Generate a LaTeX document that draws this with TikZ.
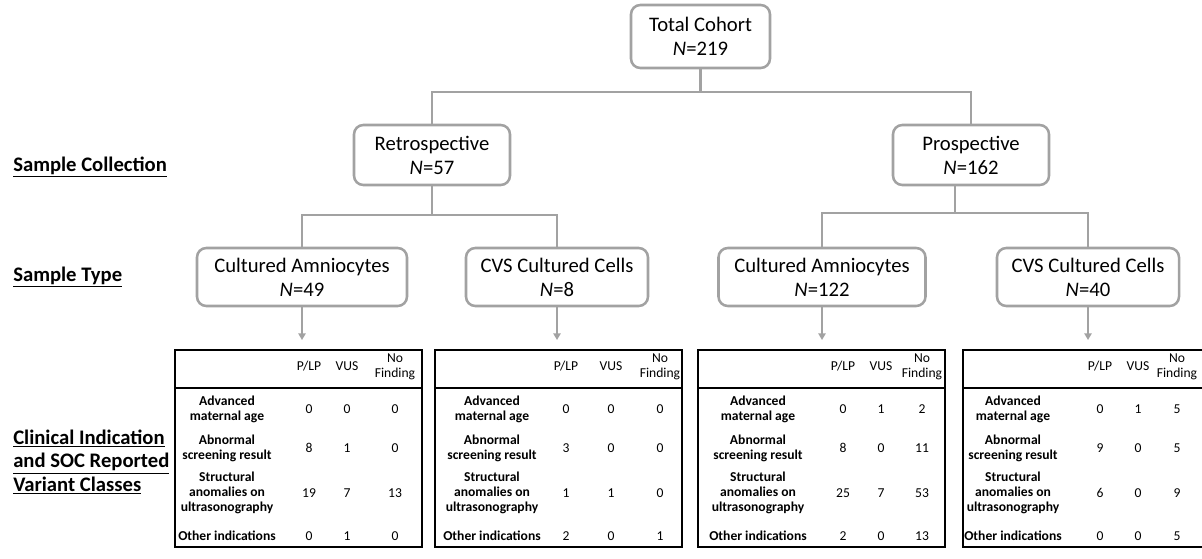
\documentclass[tikz,border=0pt]{standalone}
\usepackage{fontspec}
\setmainfont{Carlito}
\usetikzlibrary{arrows.meta,calc}
\definecolor{boxgray}{RGB}{162,162,162}

\newcommand{\TableFrame}[6]{%
  \def\TabX{#2}\def\TabL{#3}\def\TabA{#4}\def\TabB{#5}\def\TabC{#6}%
  \draw[tab] (#2,350) rectangle (#2+247,547);
  \draw[tab] (#2,388) -- (#2+247,388);
  \node[num] (t#1ha) at (#2+#4,366) {P/LP};
  \node[num] (t#1hb) at (#2+#5,366) {VUS};
  \node[num,align=center] (t#1hc) at (#2+#6,367) {No\\Finding};
  \node[lbl] (t#1l1) at (#2+#3,409) {Advanced\\maternal age};
  \node[lbl] (t#1l2) at (#2+#3,448) {Abnormal\\screening result};
  \node[lbl] (t#1l3) at (#2+#3,493) {Structural\\anomalies on\\ultrasonography};
  \node[lbl] (t#1l4) at (#2+#3,536) {Other indications};
}
\newcommand{\TableRow}[6]{%
  \node[num] (t#1r#2a) at (\TabX+\TabA,#3) {#4};
  \node[num] (t#1r#2b) at (\TabX+\TabB,#3) {#5};
  \node[num] (t#1r#2c) at (\TabX+\TabC,#3) {#6};
}

\begin{document}
\begin{tikzpicture}[x=0.75pt,y=-0.75pt,
  box/.style={draw=boxgray, line width=1.9pt, rounded corners=7pt, fill=white,
    align=center, inner sep=0pt, font=\fontsize{15.5}{18}\selectfont},
  conn/.style={draw=boxgray, line width=1.9pt},
  arr/.style={draw=boxgray, line width=1.1pt, -{Triangle[length=5pt,width=5.5pt]}},
  tab/.style={draw=black, line width=1.1pt},
  lbl/.style={font=\fontsize{10.2}{11.4}\selectfont\bfseries, align=center, inner sep=0pt},
  num/.style={font=\fontsize{10.2}{11.4}\selectfont, inner sep=0pt},
  side/.style={font=\fontsize{15.5}{17.6}\selectfont\bfseries, align=left, inner sep=0pt},
]
\useasboundingbox (0,0) rectangle (1202,558);
\clip (0,0) rectangle (1202,558);

% boxes
\node[box, minimum width=139*0.75pt, minimum height=63*0.75pt] (total) at (700.5,36.5) {Total Cohort\\\textit{N}=219};
\node[box, minimum width=156*0.75pt, minimum height=60*0.75pt] (retro) at (432,155) {Retrospective\\\textit{N}=57};
\node[box, minimum width=156*0.75pt, minimum height=60*0.75pt] (prosp) at (971,155) {Prospective\\\textit{N}=162};
\node[box, minimum width=210*0.75pt, minimum height=58*0.75pt] (ca1) at (302,277) {Cultured Amniocytes\\\textit{N}=49};
\node[box, minimum width=182*0.75pt, minimum height=58*0.75pt] (cvs1) at (557,277) {CVS Cultured Cells\\\textit{N}=8};
\node[box, minimum width=207*0.75pt, minimum height=58*0.75pt] (ca2) at (822,277) {Cultured Amniocytes\\\textit{N}=122};
\node[box, minimum width=182*0.75pt, minimum height=58*0.75pt] (cvs2) at (1088,277) {CVS Cultured Cells\\\textit{N}=40};

% connectors
\coordinate (j0) at (0,92);
\coordinate (j1) at (0,215);
\coordinate (j2) at (0,213);
\coordinate (aend) at (0,340);
\draw[conn] (total.south) -- (total.south |- j0);
\draw[conn] (retro.north) -- (retro.north |- j0) -- (prosp.north |- j0) -- (prosp.north);
\draw[conn] (retro.south) -- (retro.south |- j1);
\draw[conn] (ca1.north) -- (ca1.north |- j1) -- (cvs1.north |- j1) -- (cvs1.north);
\coordinate (p1) at ([xshift=-12pt]prosp.south);
\draw[conn] (p1) -- (p1 |- j2);
\draw[conn] (ca2.north) -- (ca2.north |- j2) -- (cvs2.north |- j2) -- (cvs2.north);

\draw[arr] (ca1.south) -- (ca1.south |- aend);
\draw[arr] (cvs1.south) -- (cvs1.south |- aend);
\draw[arr] (ca2.south) -- (ca2.south |- aend);
\draw[arr] (cvs2.south) -- (cvs2.south |- aend);

% side labels
\node[side, anchor=base west] (sc) at (13,171) {\underline{Sample Collection}};
\node[side, anchor=base west] (st) at (13,281) {\underline{Sample Type}};
\node[side, anchor=west] (ci) at (13,462) {\underline{Clinical Indication}\\\underline{and SOC Reported}\\\underline{Variant Classes}};

% tables
\TableFrame{1}{175}{52}{134}{172}{220}
\TableRow{1}{1}{409}{0}{0}{0}
\TableRow{1}{2}{448}{8}{1}{0}
\TableRow{1}{3}{493}{19}{7}{13}
\TableRow{1}{4}{536}{0}{1}{0}

\TableFrame{2}{435}{57}{131}{176}{225}
\TableRow{2}{1}{409}{0}{0}{0}
\TableRow{2}{2}{448}{3}{0}{0}
\TableRow{2}{3}{493}{1}{1}{0}
\TableRow{2}{4}{536}{2}{0}{1}

\TableFrame{3}{698}{60}{145}{183}{224}
\TableRow{3}{1}{409}{0}{1}{2}
\TableRow{3}{2}{448}{8}{0}{11}
\TableRow{3}{3}{493}{25}{7}{53}
\TableRow{3}{4}{536}{2}{0}{13}

\TableFrame{4}{963}{50}{137}{175}{214}
\TableRow{4}{1}{409}{0}{1}{5}
\TableRow{4}{2}{448}{9}{0}{5}
\TableRow{4}{3}{493}{6}{0}{9}
\TableRow{4}{4}{536}{0}{0}{5}
\end{tikzpicture}
\end{document}
